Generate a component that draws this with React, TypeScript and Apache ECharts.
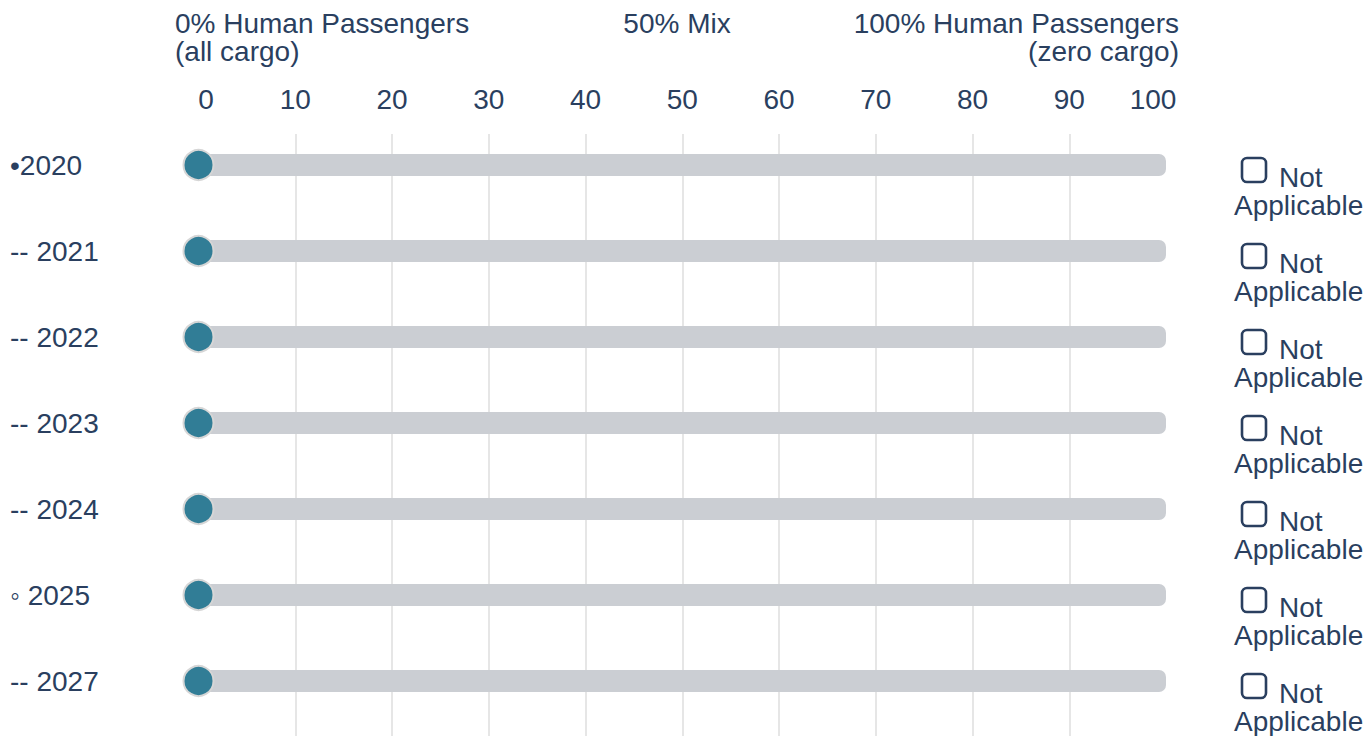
import React, { useEffect, useRef } from "react";
import * as echarts from "echarts";

const years = ["•2020", "-- 2021", "-- 2022", "-- 2023", "-- 2024", "◦ 2025", "-- 2027"];
const sliderValues = [0, 0, 0, 0, 0, 0, 0];
const trackValues = [100, 100, 100, 100, 100, 100, 100];
const axisMin = 0;
const axisMax = 100;
const axisInterval = 10;
const headerLeft = "0% Human Passengers\n(all cargo)";
const headerMid = "50% Mix";
const headerRight = "100% Human Passengers\n(zero cargo)";
const naWord1 = "Not";
const naWord2 = "Applicable";

const FONT = "'Liberation Sans', Arial, Helvetica, sans-serif";
const TXT = "#2a3f5f";

export default function App() {
  const ref = useRef<HTMLDivElement>(null);
  useEffect(() => {
    document.body.style.margin = "0";
    const chart = echarts.init(ref.current!, null, { renderer: "svg" });
    const option: any = {
      animation: false,
      textStyle: { fontFamily: FONT, color: TXT },
      grid: [
        { left: 198.5, right: 205, top: 134, bottom: 0 },
        { left: 198.5, right: 205, top: 122, height: 602 },
      ],
      xAxis: [
        {
          gridIndex: 0,
          type: "value",
          position: "top",
          min: axisMin,
          max: axisMax,
          interval: axisInterval,
          axisLine: { show: false },
          axisTick: { show: false },
          splitLine: {
            show: true,
            showMinLine: false,
            showMaxLine: false,
            lineStyle: { color: "#e6e6e6", width: 2 },
          },
          axisLabel: {
            margin: 21,
            fontSize: 28,
            color: TXT,
            fontFamily: FONT,
            formatter: (v: number) =>
              v === axisMin ? `{mn|${v}}` : v === axisMax ? `{mx|${v}}` : `{n|${v}}`,
            rich: {
              n: { fontSize: 28, color: TXT, fontFamily: FONT },
              mn: { fontSize: 28, color: TXT, fontFamily: FONT, padding: [0, 0, 0, 15] },
              mx: { fontSize: 28, color: TXT, fontFamily: FONT, padding: [0, 26, 0, 0] },
            },
          },
        },
        {
          gridIndex: 1,
          type: "value",
          min: axisMin,
          max: axisMax,
          show: false,
          splitLine: { show: false },
        },
      ],
      yAxis: [
        {
          gridIndex: 1,
          type: "category",
          data: years,
          inverse: true,
          position: "left",
          axisLine: { show: false },
          axisTick: { show: false },
          splitLine: { show: false },
          axisLabel: {
            align: "left",
            margin: 188.5,
            fontSize: 28,
            color: TXT,
            fontFamily: FONT,
            padding: [7, 0, 0, 0],
          },
        },
        {
          gridIndex: 1,
          type: "category",
          data: years,
          inverse: true,
          position: "right",
          axisLine: { show: false },
          axisTick: { show: false },
          splitLine: { show: false },
          axisLabel: {
            align: "left",
            margin: 68,
            padding: [41, 0, 0, 0],
            formatter: () => `{sp|}{box|}{gap|}{nt|${naWord1}}\n{ap|${naWord2}}`,
            rich: {
              sp: { width: 8, height: 1 },
              box: {
                width: 24,
                height: 24,
                borderColor: TXT,
                borderWidth: 2.6,
                borderRadius: 5,
                verticalAlign: "top",
              },
              gap: { width: 13, height: 1 },
              nt: { fontSize: 28, color: TXT, fontFamily: FONT, lineHeight: 39 },
              ap: { fontSize: 28, color: TXT, fontFamily: FONT, lineHeight: 16 },
            },
          },
        },
        {
          gridIndex: 0,
          type: "value",
          show: false,
          min: 0,
          max: 1,
          splitLine: { show: false },
        },
      ],
      series: [
        {
          type: "bar",
          xAxisIndex: 1,
          yAxisIndex: 0,
          data: trackValues,
          barWidth: 22,
          itemStyle: { color: "#cbced3", borderRadius: 7 },
          silent: true,
          z: 2,
        },
        {
          type: "scatter",
          xAxisIndex: 1,
          yAxisIndex: 0,
          data: sliderValues.map((v, i) => [v, i]),
          symbol: "circle",
          symbolSize: 30,
          itemStyle: { color: "#317d96", borderColor: "#d6d6d6", borderWidth: 2, opacity: 1 },
          z: 3,
        },
      ],
      graphic: [
        {
          type: "text",
          x: 175,
          y: 9,
          style: {
            text: headerLeft,
            font: `28px ${FONT}`,
            fill: TXT,
            lineHeight: 28,
            align: "left",
            verticalAlign: "top",
          },
        },
        {
          type: "text",
          x: 677,
          y: 9,
          style: {
            text: headerMid,
            font: `28px ${FONT}`,
            fill: TXT,
            lineHeight: 28,
            align: "center",
            verticalAlign: "top",
          },
        },
        {
          type: "text",
          x: 1179,
          y: 9,
          style: {
            text: headerRight,
            font: `28px ${FONT}`,
            fill: TXT,
            lineHeight: 28,
            align: "right",
            verticalAlign: "top",
          },
        },
      ],
    };
    chart.setOption(option);
    return () => chart.dispose();
  }, []);
  return <div ref={ref} style={{ width: 1371, height: 736 }} />;
}
